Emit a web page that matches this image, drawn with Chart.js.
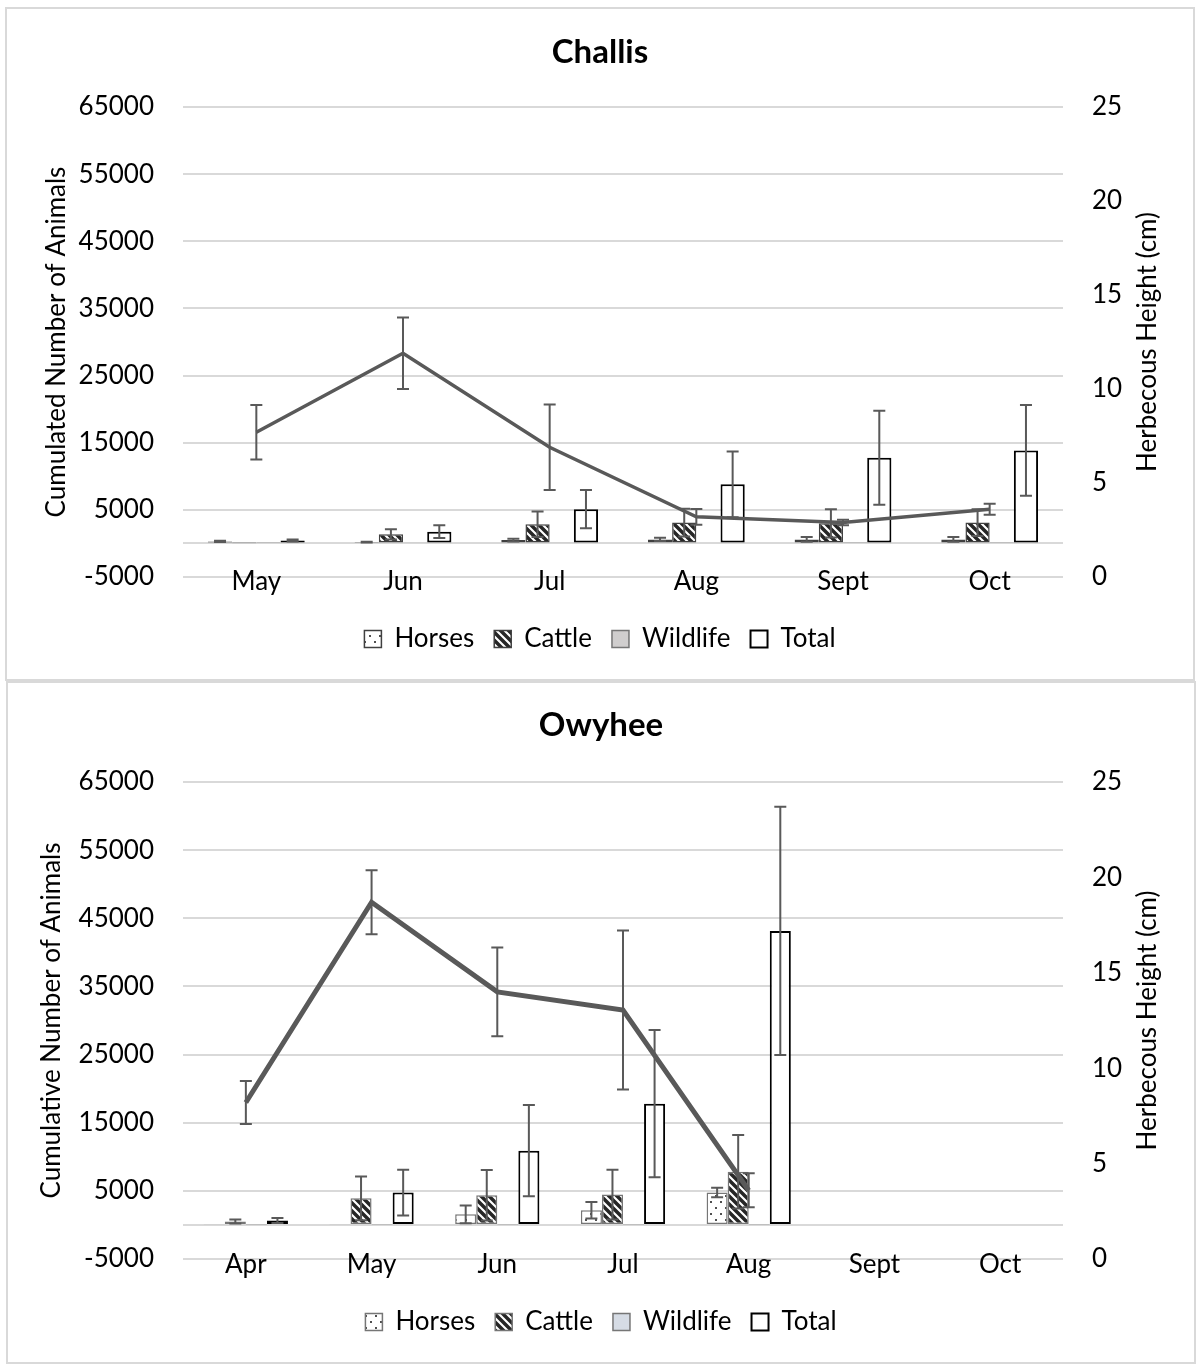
<!DOCTYPE html>
<html>
<head>
<meta charset="utf-8">
<title>Challis / Owyhee</title>
<script src="https://cdn.jsdelivr.net/npm/chart.js@4.4.1/dist/chart.umd.min.js"></script>
<style>
  body { margin: 0; background: #fff; width: 1201px; height: 1367px; position: relative; overflow: hidden; }
  .box { position: absolute; border: 2px solid #d9d9d9; box-sizing: border-box; background: #fff; }
  .box canvas { display: block; }
</style>
</head>
<body>
<div class="box" style="left:5px; top:7px; width:1190px; height:674px;">
  <canvas id="challis" width="1186" height="670"></canvas>
</div>
<div class="box" style="left:6px; top:681px; width:1190px; height:683px;">
  <canvas id="owyhee" width="1186" height="679"></canvas>
</div>
<script>
// Challis
const challisMonths = ['May', 'Jun', 'Jul', 'Aug', 'Sept', 'Oct'];
const challisHorses = [300, 200, 500, 600, 600, 600];
const challisHorsesErr = [100, 60, 200, 250, 350, 350];
const challisCattle = [30, 1350, 2850, 3100, 3000, 3100];
const challisCattleErr = [0, 750, 1900, 2050, 2100, 2000];
const challisWildlife = [80, 100, 100, 150, 200, 200];
const challisTotal = [450, 1750, 5100, 8800, 12750, 13850];
const challisTotalErr = [150, 950, 2850, 4900, 7000, 6750];
const challisHeight = [7.7, 11.9, 6.9, 3.2, 2.9, 3.6];
const challisHeightErr = [1.45, 1.9, 2.27, 0.42, 0.15, 0.29];

// Owyhee
const owyheeMonths = ['Apr', 'May', 'Jun', 'Jul', 'Aug', 'Sept', 'Oct'];
const owyheeHorses = [100, 100, 1550, 2150, 4750, null, null];
const owyheeHorsesErr = [0, 0, 1300, 1200, 700, null, null];
const owyheeCattle = [500, 3900, 4350, 4450, 7800, null, null];
const owyheeCattleErr = [300, 3200, 3700, 3650, 5400, null, null];
const owyheeWildlife = [50, 50, 50, 50, 50, null, null];
const owyheeTotal = [650, 4750, 10900, 17800, 43150, null, null];
const owyheeTotalErr = [350, 3350, 6700, 10800, 18200, null, null];
const owyheeHeight = [8.2, 18.7, 14.0, 13.05, 3.6, null, null];
const owyheeHeightErr = [1.13, 1.68, 2.33, 4.17, 0.89, null, null];

const FONT = 'Lato, "Open Sans", sans-serif';
Chart.defaults.font.family = FONT;
Chart.defaults.color = '#000';

function makeTile(w, h, draw) {
  const c = document.createElement('canvas');
  c.width = w;
  c.height = h;
  const g = c.getContext('2d');
  g.fillStyle = '#fff';
  g.fillRect(0, 0, w, h);
  draw(g);
  return g.createPattern(c, 'repeat');
}

const dots = makeTile(10, 12, g => {
  g.fillStyle = '#505050';
  g.fillRect(2, 2, 2, 2);
  g.fillRect(7, 8, 2, 2);
});

const stripes = makeTile(8, 8, g => {
  g.strokeStyle = '#262626';
  g.lineWidth = 3.5;
  g.beginPath();
  g.moveTo(-2, -2); g.lineTo(10, 10);
  g.moveTo(-10, -2); g.lineTo(2, 10);
  g.moveTo(6, -2); g.lineTo(18, 10);
  g.stroke();
});

// draws the +/- whiskers for every dataset carrying an errorBars array
const errorBars = {
  id: 'errorBars',
  afterDatasetsDraw(chart) {
    const ctx = chart.ctx;
    chart.data.datasets.forEach((ds, i) => {
      if (!ds.errorBars) return;
      const meta = chart.getDatasetMeta(i);
      const scale = chart.scales[meta.yAxisID];
      ctx.save();
      ctx.strokeStyle = '#595959';
      ctx.lineWidth = 2;
      meta.data.forEach((el, j) => {
        const v = ds.data[j];
        const e = ds.errorBars[j];
        if (v == null || !e) return;
        const x = el.x;
        const top = scale.getPixelForValue(v + e);
        const bot = scale.getPixelForValue(v - e);
        ctx.beginPath();
        ctx.moveTo(x, top); ctx.lineTo(x, bot);
        ctx.moveTo(x - 6, top); ctx.lineTo(x + 6, top);
        ctx.moveTo(x - 6, bot); ctx.lineTo(x + 6, bot);
        ctx.stroke();
      });
      ctx.restore();
    });
  }
};

// right axis title, read bottom-to-top like the left one
const rightTitle = {
  id: 'rightTitle',
  afterDraw(chart, args, opts) {
    const { ctx, chartArea } = chart;
    ctx.save();
    ctx.translate(opts.x, (chartArea.top + chartArea.bottom) / 2);
    ctx.rotate(-Math.PI / 2);
    ctx.font = '26px ' + FONT;
    ctx.fillStyle = '#000';
    ctx.textAlign = 'center';
    ctx.textBaseline = 'middle';
    ctx.fillText(opts.text, 0, 0);
    ctx.restore();
  }
};

function buildChart(id, o) {
  return new Chart(document.getElementById(id), {
    type: 'bar',
    data: {
      labels: o.labels,
      datasets: [
        { label: 'Horses', data: o.horses, errorBars: o.horsesErr, backgroundColor: dots,
          borderColor: o.edge, borderWidth: 1.5, borderSkipped: false, order: 1 },
        { label: 'Cattle', data: o.cattle, errorBars: o.cattleErr, backgroundColor: stripes,
          borderColor: o.edge, borderWidth: 1.5, borderSkipped: false, order: 1 },
        { label: 'Wildlife', data: o.wildlife, backgroundColor: o.wildColor,
          borderColor: '#767676', borderWidth: 1.5, borderSkipped: false, order: 1 },
        { label: 'Total', data: o.total, errorBars: o.totalErr, backgroundColor: '#fff',
          borderColor: '#000', borderWidth: 2, borderSkipped: false, order: 1 },
        { type: 'line', label: 'Height', data: o.height, errorBars: o.heightErr, yAxisID: 'y1',
          borderColor: '#595959', borderWidth: o.lineW, pointRadius: 0, tension: 0,
          fill: false, order: 0 }
      ]
    },
    options: {
      responsive: false,
      animation: false,
      layout: { padding: { top: 0, left: 0, right: 0, bottom: o.padBottom } },
      datasets: { bar: { categoryPercentage: o.catPct, barPercentage: 1 } },
      plugins: {
        title: {
          display: true, text: o.title, color: '#000',
          font: { size: 33, weight: 'bold' },
          padding: { top: o.titleTop, bottom: o.titleBottom }
        },
        legend: {
          position: 'bottom',
          labels: {
            font: { size: 26 }, color: '#000', boxWidth: 17, boxHeight: 17, padding: 20,
            filter: item => item.datasetIndex < 4
          }
        },
        tooltip: { enabled: false },
        rightTitle: { text: 'Herbecous Height (cm)', x: o.rightTitleX }
      },
      scales: {
        x: {
          grid: { display: false }, border: { display: false },
          // mirror only lifts the label clip so the month names can sit on the -5000 line
          ticks: { font: { size: 26 }, padding: o.xPad, color: '#000', mirror: true },
          afterFit: s => { s.height = o.xHeight; }
        },
        y: {
          position: 'left', min: -5000, max: 65000,
          grid: { color: '#d9d9d9', lineWidth: 2, drawTicks: false },
          border: { display: false },
          ticks: {
            stepSize: 10000, autoSkip: false, padding: 29, font: { size: 26 }, color: '#000',
            callback: v => (v === 0 ? '' : String(v))
          },
          afterBuildTicks: s => {
            s.ticks.push({ value: 0 });
            s.ticks.sort((a, b) => a.value - b.value);
          },
          title: { display: true, text: o.leftTitle, font: { size: 26 }, color: '#000',
                   padding: { top: o.leftTitlePad, bottom: 0 } },
          afterFit: s => { s.width = o.leftW; }
        },
        y1: {
          position: 'right', min: 0, max: 25,
          grid: { display: false, drawTicks: false }, border: { display: false },
          ticks: { stepSize: 5, padding: 29, font: { size: 26 }, color: '#000' },
          afterFit: s => { s.width = o.rightW; }
        }
      }
    },
    plugins: [errorBars, rightTitle]
  });
}

buildChart('challis', {
  title: 'Challis', labels: challisMonths,
  horses: challisHorses, horsesErr: challisHorsesErr,
  cattle: challisCattle, cattleErr: challisCattleErr,
  wildlife: challisWildlife, total: challisTotal, totalErr: challisTotalErr,
  height: challisHeight, heightErr: challisHeightErr,
  edge: '#404040', wildColor: '#d0cece', lineW: 3.5, catPct: 0.66,
  leftTitle: 'Cumulated Number of Animals',
  titleTop: 23.2, titleBottom: 35.2, padBottom: 17, xHeight: 29, xPad: -20,
  leftW: 176, rightW: 130, leftTitlePad: 34.4, rightTitleX: 1141
});

buildChart('owyhee', {
  title: 'Owyhee', labels: owyheeMonths,
  horses: owyheeHorses, horsesErr: owyheeHorsesErr,
  cattle: owyheeCattle, cattleErr: owyheeCattleErr,
  wildlife: owyheeWildlife, total: owyheeTotal, totalErr: owyheeTotalErr,
  height: owyheeHeight, heightErr: owyheeHeightErr,
  edge: '#767676', wildColor: '#d6dce5', lineW: 5, catPct: 0.67,
  leftTitle: 'Cumulative Number of Animals',
  titleTop: 22.2, titleBottom: 37.2, padBottom: 17, xHeight: 30, xPad: -21,
  leftW: 175, rightW: 131, leftTitlePad: 28.4, rightTitleX: 1140
});
</script>
</body>
</html>
